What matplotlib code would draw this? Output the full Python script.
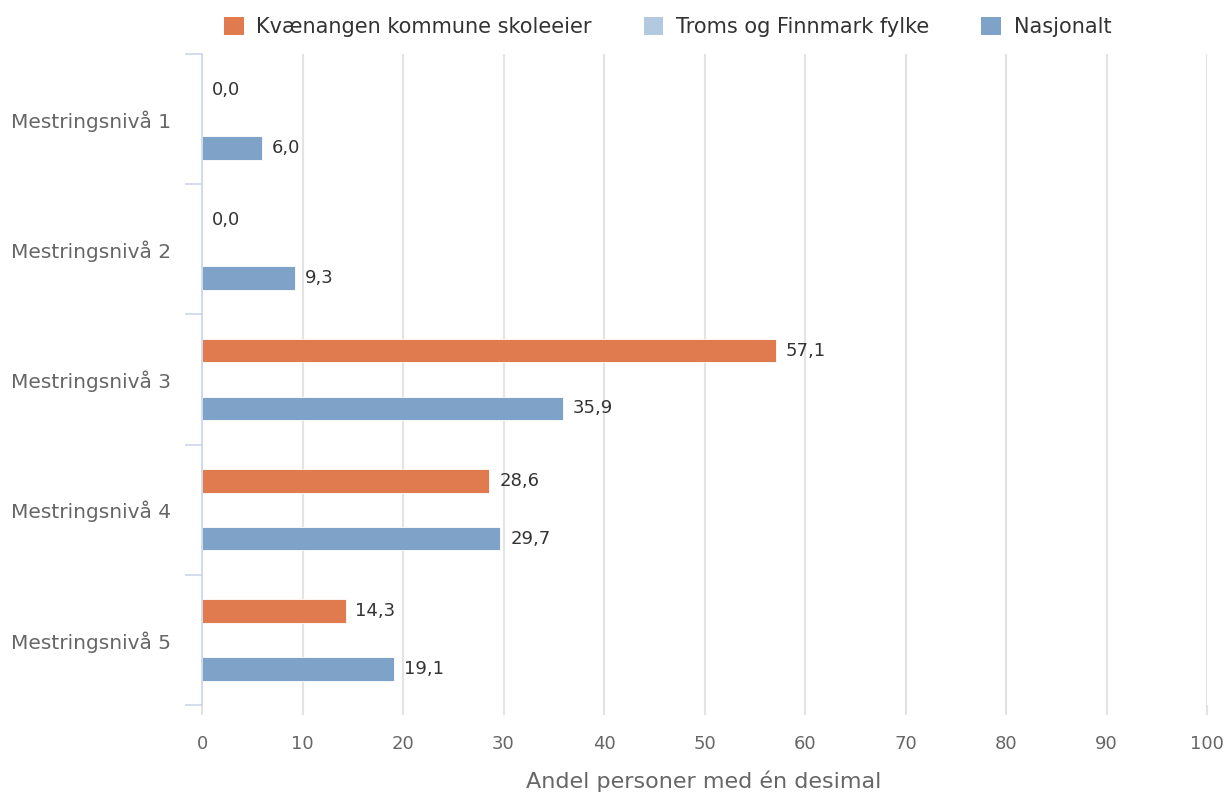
import matplotlib
matplotlib.use("Agg")
import matplotlib.pyplot as plt
from matplotlib.patches import Patch
import numpy as np

# data
categories = ["Mestringsnivå 1", "Mestringsnivå 2", "Mestringsnivå 3",
              "Mestringsnivå 4", "Mestringsnivå 5"]
kvaenangen = [0.0, 0.0, 57.1, 28.6, 14.3]
troms_finnmark = [None, None, None, None, None]  # no data shown
nasjonalt = [6.0, 9.3, 35.9, 29.7, 19.1]

series_names = ["Kvænangen kommune skoleeier", "Troms og Finnmark fylke", "Nasjonalt"]
colors = ["#e07b4f", "#b3c9df", "#7fa3c8"]

plt.rcParams["font.family"] = ["DejaVu Sans"]

fig = plt.figure(figsize=(12.27, 7.94), dpi=100)
ax = fig.add_axes([202 / 1227, 1 - 705 / 794, 1005 / 1227, 651 / 794])

y = np.arange(len(categories))
offset = 0.222
height = 0.18

def fmt(v):
    return f"{v:.1f}".replace(".", ",")

for vals, off, col in [(kvaenangen, -offset, colors[0]), (nasjonalt, offset, colors[2])]:
    for yi, v in zip(y, vals):
        if v is None:
            continue
        ax.barh(yi + off, v, height=height, color=col, edgecolor="white", linewidth=0.6, zorder=3)
        ax.annotate(fmt(v), xy=(v, yi + off), xytext=(7, 0), textcoords="offset points",
                    va="center", ha="left", fontsize=13, color="#333333", zorder=4)

ax.set_xlim(0, 100)
ax.set_ylim(len(categories) - 0.5, -0.5)
ax.set_xticks(np.arange(0, 101, 10))
ax.xaxis.grid(True, color="#e3e3e3", linewidth=1.5, zorder=0)
ax.tick_params(axis="x", length=7.5, width=1.5, color="#e3e3e3", pad=14,
               labelsize=13, labelcolor="#666666")

ax.set_yticks(y)
ax.set_yticklabels(categories)
ax.set_yticks(np.arange(-0.5, len(categories)), minor=True)
ax.tick_params(axis="y", which="major", length=0, pad=22, labelsize=14.5, labelcolor="#666666")
ax.tick_params(axis="y", which="minor", length=12, width=1.2, color="#ccd6eb")

for s in ["top", "right", "bottom"]:
    ax.spines[s].set_visible(False)
ax.spines["left"].set_color("#ccd6eb")
ax.spines["left"].set_linewidth(1.2)
ax.spines["left"].set_zorder(5)

fig.text((522 + 885) / 2 / 1227, 1 - 781 / 794, "Andel personer med én desimal",
         ha="center", va="center", fontsize=16, color="#666666")

handles = [Patch(facecolor=c, edgecolor="none") for c in colors]
fig.legend(handles, series_names, loc="center", bbox_to_anchor=(0.544, 1 - 27 / 794), ncol=3,
           frameon=False, fontsize=15, labelcolor="#333333", handlelength=0.95, handleheight=0.95,
           handletextpad=0.6, columnspacing=2.5)

fig.savefig("out.png", dpi=100)
